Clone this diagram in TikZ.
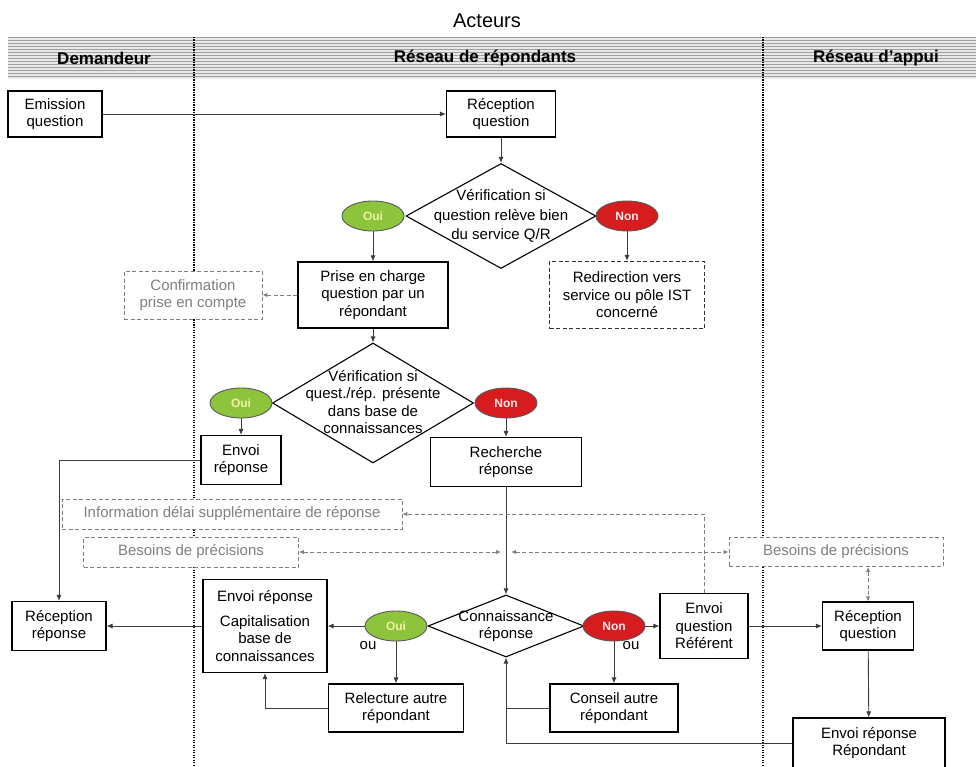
\documentclass[tikz,border=0pt]{standalone}
\usepackage{fontspec}
\setmainfont{Liberation Sans}
\usetikzlibrary{shapes.geometric,arrows.meta,patterns}
\definecolor{ouigreen}{RGB}{140,196,60}
\definecolor{ouitext}{RGB}{245,240,165}
\definecolor{nonred}{RGB}{214,28,30}
\definecolor{notegray}{RGB}{128,128,128}
\definecolor{linegray}{RGB}{60,60,60}

\begin{document}
\begin{tikzpicture}[x=1pt, y=-1pt,
        font=\fontsize{15}{17.5}\selectfont,
        box/.style={draw, line width=1.1pt, fill=white, align=center, inner sep=1pt},
        note/.style={draw=notegray, dash pattern=on 4pt off 2.5pt, line width=0.9pt, fill=white, text=notegray, align=center, inner sep=1pt},
        decision/.style={draw, diamond, line width=1.1pt, fill=white, inner sep=0pt},
        answer/.style={draw=black!65, ellipse, line width=0.9pt, minimum width=62pt, minimum height=30pt, inner sep=0pt, font=\fontsize{12}{14}\selectfont\bfseries},
        oui/.style={answer, fill=ouigreen, text=ouitext},
        non/.style={answer, fill=nonred, text=white!92!red},
        arr/.style={-{Latex[length=6pt,width=5pt]}, line width=0.9pt, draw=linegray},
        garr/.style={-{Latex[length=5pt,width=4.5pt]}, line width=0.9pt, draw=notegray, dash pattern=on 4pt off 2.5pt},
        gboth/.style={{Latex[length=5pt,width=4.5pt]}-{Latex[length=5pt,width=4.5pt]}, line width=0.9pt, draw=notegray, dash pattern=on 4pt off 2.5pt},
        lane/.style={line width=1.3pt, dash pattern=on 1.2pt off 1.3pt}]
    \useasboundingbox (0,0) rectangle (976,767);
    \fill[gray!18] (8,37) rectangle (976,79);
    \pattern[pattern=horizontal lines, pattern color=gray!75] (8,37) rectangle (976,79);
    \draw[lane] (194,37) -- (194,767);
    \draw[lane] (763,37) -- (763,767);
    \node[font=\fontsize{20}{24}\selectfont] (title) at (487,21) {Acteurs};
    \node[font=\fontsize{17}{20}\selectfont\bfseries] (hdem) at (104,58) {Demandeur};
    \node[font=\fontsize{17}{20}\selectfont\bfseries] (hrep) at (485,58) {Réseau de répondants};
    \node[font=\fontsize{17}{20}\selectfont\bfseries] (happ) at (876,58) {Réseau d’appui};

    \node[box, minimum width=94pt, minimum height=46pt] (em) at (55,114) {Emission\\question};
    \node[box, minimum width=109pt, minimum height=46pt] (rq1) at (501,114) {Réception\\question};
    \node[decision, minimum width=190pt, minimum height=105pt] (d1) at (501,216) {};
    \node[align=center] (d1t) at (501,216) {Vérification si\\[2pt]question relève bien\\[2pt]du service Q/R};
    \node[oui] (oui1) at (373,216) {Oui};
    \node[non] (non1) at (627,216) {Non};
    \node[box, minimum width=150pt, minimum height=66pt] (pr) at (373,295) {Prise en charge\\question par un\\répondant};
    \node[note, minimum width=138pt, minimum height=48pt] (conf) at (193,295) {Confirmation\\prise en compte};
    \node[box, draw=black!80, dash pattern=on 4pt off 2.5pt, minimum width=155pt, minimum height=67pt] (redir) at (627,295) {Redirection vers\\service ou pôle IST\\concerné};
    \node[decision, minimum width=201pt, minimum height=120pt] (d2) at (373,403) {};
    \node[align=center] (d2t) at (373,402) {Vérification si\\quest./rép. présente\\dans base de\\connaissances};
    \node[oui] (oui2) at (241,403) {Oui};
    \node[non] (non2) at (506,403) {Non};
    \node[box, minimum width=80pt, minimum height=49pt] (er1) at (241,460) {Envoi\\réponse};
    \node[box, minimum width=151pt, minimum height=49pt] (rech) at (506,462) {Recherche\\réponse};
    \node[note, minimum width=340pt, minimum height=30pt] (info) at (232,514) {Information délai supplémentaire de réponse};
    \node[note, minimum width=215pt, minimum height=30pt] (bes1) at (191,552) {Besoins de précisions};
    \node[note, minimum width=214pt, minimum height=29pt] (bes2) at (836,552) {Besoins de précisions};
    \coordinate (bl) at (501,552);
    \coordinate (br) at (511,552);
    \node[box, minimum width=94pt, minimum height=49pt] (rr) at (59,626) {Réception\\réponse};
    \node[box, minimum width=124pt, minimum height=93pt] (cap) at (265,626) {Envoi réponse\\[7pt]Capitalisation\\base de\\connaissances};
    \node[decision, minimum width=156pt, minimum height=62pt] (d3) at (506,626) {};
    \node[align=center] (d3t) at (506,626) {Connaissance\\réponse};
    \node[oui] (oui3) at (396,626) {Oui};
    \node[non] (non3) at (614,626) {Non};
    \node (ou1) at (368,646) {ou};
    \node (ou2) at (631,646) {ou};
    \node[box, minimum width=135pt, minimum height=48pt] (rel) at (396,708) {Relecture autre\\répondant};
    \node[box, minimum width=128pt, minimum height=48pt] (cons) at (614,708) {Conseil autre\\répondant};
    \node[box, minimum width=88pt, minimum height=65pt] (ref) at (704,626) {Envoi\\question\\Référent};
    \node[box, minimum width=91pt, minimum height=48pt] (rq2) at (868,626) {Réception\\question};
    \node[box, minimum width=152pt, minimum height=50pt] (rep) at (869,743) {Envoi réponse\\Répondant};

    \draw[arr] (em) -- (rq1);
    \draw[arr] (rq1) -- (d1);
    \draw[arr] (oui1) -- (pr);
    \draw[arr] (non1) -- (redir);
    \draw[garr] (pr) -- (conf);
    \draw[arr] (pr) -- (d2);
    \draw[arr] (oui2) -- (er1);
    \draw[arr] (non2) -- (rech);
    \draw[arr] (er1.west) -| (rr.north);
    \draw[arr] (rech) -- (d3);
    \draw[garr] (ref.north) |- (info.east);
    \draw[gboth] (bes1.east) -- (bl);
    \draw[gboth] (br) -- (bes2.west);
    \draw[gboth] (bes2.south -| rq2.north) -- (rq2.north);
    \draw[arr] (oui3) -- (cap);
    \draw[arr] (cap) -- (rr);
    \draw[arr] (oui3) -- (rel);
    \draw[arr] (rel.west) -| (cap.south);
    \draw[arr] (non3) -- (ref);
    \draw[arr] (non3) -- (cons);
    \draw[linegray, line width=0.9pt] (cons.west) -- (cons.west -| d3.south);
    \draw[arr] (rep.west) -| (d3.south);
    \draw[arr] (ref) -- (rq2);
    \draw[arr] (rq2) -- (rep);
\end{tikzpicture}
\end{document}
